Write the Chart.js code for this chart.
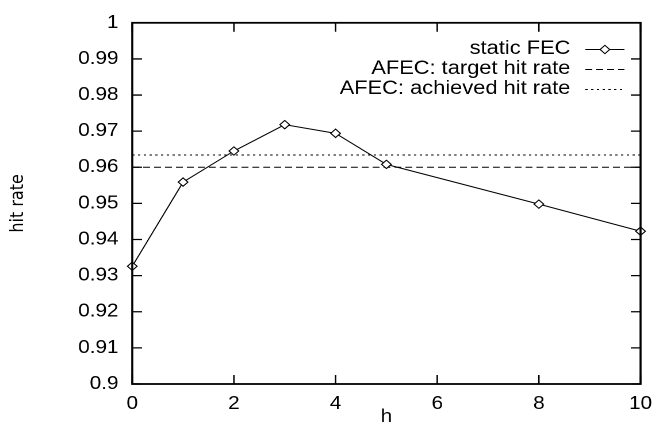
<!DOCTYPE html>
<html>
<head>
<meta charset="utf-8">
<script src="https://cdn.jsdelivr.net/npm/chart.js@4"></script>
<style>
  html, body { margin: 0; padding: 0; background: #fff; overflow: hidden; }
  /* the reference picture is stretched sideways, so draw narrow and widen */
  #wrap { width: 576px; height: 431px; transform: scaleX(1.15); transform-origin: 0 0; }
</style>
</head>
<body>
<div id="wrap"><canvas id="hitChart"></canvas></div>
<script>
// values
const hValues = [0, 1, 2, 3, 4, 5, 8, 10];
const staticFec = [0.9326, 0.9559, 0.9645, 0.9718, 0.9694, 0.9608, 0.9498, 0.9423];
const hRange = [0, 10];
const targetHitRate = 0.960;
const achievedHitRate = 0.9634;
const xTicks = [0, 2, 4, 6, 8, 10];
const yMin = 0.9, yMax = 1, yStep = 0.01;

const FONT = 'Liberation Sans, Arial, Helvetica, sans-serif';

// inward ticks on all four sides plus the full frame, gnuplot style
const framePlugin = {
  id: 'frame',
  afterDraw(chart) {
    const { ctx, chartArea: a, scales: { x, y } } = chart;
    ctx.save();
    ctx.strokeStyle = '#000';
    ctx.lineWidth = 1.3;
    ctx.beginPath();
    x.ticks.forEach(t => {
      const px = x.getPixelForValue(t.value);
      ctx.moveTo(px, a.bottom); ctx.lineTo(px, a.bottom - 9);
      ctx.moveTo(px, a.top); ctx.lineTo(px, a.top + 9);
    });
    y.ticks.forEach(t => {
      const py = y.getPixelForValue(t.value);
      ctx.moveTo(a.left, py); ctx.lineTo(a.left + 8.5, py);
      ctx.moveTo(a.right, py); ctx.lineTo(a.right - 8.5, py);
    });
    ctx.stroke();
    ctx.lineWidth = 1.8;
    ctx.strokeRect(a.left, a.top, a.right - a.left, a.bottom - a.top);
    ctx.restore();
  }
};

// legend inside the plot: text right aligned, sample on the right
const keyPlugin = {
  id: 'key',
  afterDraw(chart) {
    const ctx = chart.ctx;
    const textRight = 496;
    const sx0 = 509, sx1 = 543;
    ctx.save();
    ctx.font = '19px ' + FONT;
    ctx.textAlign = 'right';
    ctx.textBaseline = 'middle';
    chart.data.datasets.forEach((ds, i) => {
      const yy = 49 + i * 20;
      ctx.fillStyle = '#000';
      ctx.fillText(ds.label, textRight, yy);
      ctx.strokeStyle = '#000';
      ctx.lineWidth = 1;
      ctx.setLineDash(ds.borderDash || []);
      ctx.beginPath();
      ctx.moveTo(sx0, yy + 0.5); ctx.lineTo(sx1, yy + 0.5);
      ctx.stroke();
      ctx.setLineDash([]);
      if (ds.pointRadius) {
        const cx = (sx0 + sx1) / 2, r = ds.pointRadius;
        ctx.fillStyle = '#fff';
        ctx.beginPath();
        ctx.moveTo(cx, yy + 0.5 - r); ctx.lineTo(cx + r, yy + 0.5);
        ctx.lineTo(cx, yy + 0.5 + r); ctx.lineTo(cx - r, yy + 0.5);
        ctx.closePath();
        ctx.fill(); ctx.stroke();
      }
    });
    ctx.restore();
  }
};

const canvas = document.getElementById('hitChart');

new Chart(canvas, {
  type: 'line',
  data: {
    datasets: [
      {
        label: 'static FEC',
        data: hValues.map((h, i) => ({ x: h, y: staticFec[i] })),
        borderColor: '#000',
        borderWidth: 1,
        backgroundColor: '#fff',
        pointStyle: 'rectRot',
        pointRadius: 4.2,
        pointBorderWidth: 1,
        pointBackgroundColor: '#fff',
        pointBorderColor: '#000',
        tension: 0,
        clip: false
      },
      {
        label: 'AFEC: target hit rate',
        data: hRange.map(h => ({ x: h, y: targetHitRate })),
        borderColor: '#000',
        borderWidth: 1,
        borderDash: [6, 3.5],
        pointRadius: 0
      },
      {
        label: 'AFEC: achieved hit rate',
        data: hRange.map(h => ({ x: h, y: achievedHitRate })),
        borderColor: '#000',
        borderWidth: 1,
        borderDash: [2, 3],
        pointRadius: 0
      }
    ]
  },
  options: {
    responsive: true,
    maintainAspectRatio: false,
    animation: false,
    devicePixelRatio: 2,
    layout: { padding: { top: 20.5, right: 12.5, left: 0, bottom: 0 } },
    plugins: {
      legend: { display: false },
      tooltip: { enabled: false }
    },
    scales: {
      x: {
        type: 'linear',
        min: hRange[0],
        max: hRange[1],
        afterBuildTicks: s => { s.ticks = xTicks.map(v => ({ value: v })); },
        afterFit: s => { s.height = 47; },
        grid: { display: false, drawTicks: false },
        border: { display: false },
        ticks: { padding: 9, color: '#000', font: { family: FONT, size: 18 } },
        title: { display: true, text: 'h', color: '#000', font: { family: FONT, size: 18 }, padding: { top: 0, bottom: 3 } }
      },
      y: {
        type: 'linear',
        min: yMin,
        max: yMax,
        afterFit: s => { s.width = 115; },
        grid: { display: false, drawTicks: false },
        border: { display: false },
        ticks: {
          stepSize: yStep,
          padding: 12,
          color: '#000',
          font: { family: FONT, size: 18 },
          callback: v => String(+v.toFixed(2))
        },
        title: { display: true, text: 'hit rate', color: '#000', font: { family: 'DejaVu Sans, sans-serif', size: 16 }, padding: { top: 6, bottom: 0 } }
      }
    }
  },
  plugins: [framePlugin, keyPlugin]
});
</script>
</body>
</html>
